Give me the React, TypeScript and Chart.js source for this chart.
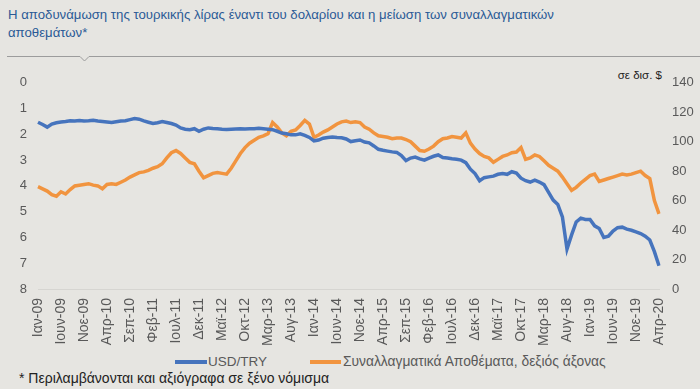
import React, { useEffect, useRef } from 'react';
import { Chart, registerables } from 'chart.js';

Chart.register(...registerables);

const MONTHS = ['Ιαν', 'Φεβ', 'Μαρ', 'Απρ', 'Μαϊ', 'Ιουν', 'Ιουλ', 'Αυγ', 'Σεπ', 'Οκτ', 'Νοε', 'Δεκ'];
const YEARS = ['09', '10', '11', '12', '13', '14', '15', '16', '17', '18', '19', '20'];
const LAST_YEAR_MONTHS = 4; // Ιαν-20 .. Απρ-20
const TICK_EVERY = 5;

const CATEGORIES: string[] = [];
YEARS.forEach((y, yi) => {
  const n = yi === YEARS.length - 1 ? LAST_YEAR_MONTHS : 12;
  for (let m = 0; m < n; m++) CATEGORIES.push(`${MONTHS[m]}-${y}`);
});

// USD/TRY (left axis, reversed)
const USD_TRY = [
  1.53, 1.62, 1.72, 1.60, 1.55, 1.52, 1.50, 1.47, 1.48, 1.46, 1.48, 1.47,
  1.45, 1.48, 1.50, 1.52, 1.54, 1.51, 1.48, 1.47, 1.43, 1.39, 1.41, 1.48,
  1.53, 1.58, 1.55, 1.50, 1.54, 1.58, 1.64, 1.75, 1.80, 1.82, 1.78, 1.88,
  1.80, 1.75, 1.77, 1.78, 1.80, 1.81, 1.80, 1.79, 1.78, 1.79, 1.78, 1.78,
  1.76, 1.78, 1.80, 1.82, 1.88, 1.95, 1.98, 2.02, 2.02, 1.98, 2.04, 2.12,
  2.25, 2.22, 2.15, 2.12, 2.10, 2.12, 2.13, 2.18, 2.28, 2.25, 2.22, 2.30,
  2.33, 2.45, 2.58, 2.62, 2.65, 2.68, 2.70, 2.82, 3.02, 2.92, 2.88, 2.95,
  3.00, 2.92, 2.85, 2.80, 2.90, 2.92, 2.95, 2.97, 3.00, 3.10, 3.35, 3.52,
  3.80, 3.68, 3.65, 3.62, 3.55, 3.52, 3.55, 3.45, 3.50, 3.70, 3.80, 3.85,
  3.78, 3.85, 3.95, 4.25, 4.55, 4.72, 5.20, 6.45, 5.90, 5.40, 5.25, 5.30,
  5.30, 5.55, 5.65, 6.00, 5.95, 5.75, 5.62, 5.60, 5.68, 5.72, 5.78, 5.85,
  5.95, 6.10, 6.55, 7.10,
];

// FX reserves, bn $ (right axis)
const RESERVES = [
  69.5, 68, 66.5, 64, 63, 66, 64.5, 67.5, 70, 70.5, 71, 71.5,
  70.5, 70, 68, 71, 71.5, 71, 72.5, 74, 76, 77.5, 79, 79.5,
  80.5, 82, 83, 85, 89, 92.5, 94, 92, 89, 86, 85, 80,
  75.5, 77, 78.5, 79, 78.5, 78, 82, 87, 92, 96, 99, 101,
  103, 104, 105.5, 113, 110, 106, 104, 107, 108, 111, 114.5, 112,
  103, 104.5, 106.5, 108, 110, 112, 113.5, 114, 113, 113.5, 113, 110,
  108.5, 106, 104, 103.5, 103, 102, 102.5, 102.5, 101.5, 100, 97, 94,
  93.5, 95, 97, 100, 102, 102.5, 103.5, 103, 102.5, 106, 99, 95,
  92, 90, 89, 86, 88, 90, 91, 92.5, 93, 96, 88, 89,
  91, 90, 87, 84, 82, 80, 76, 71.5, 67, 69, 72, 74.5,
  77, 78, 73, 74, 75, 76, 77, 78, 77.5, 78, 79, 80,
  77, 75, 60, 51,
];

const BG = '#e6e5e1';
const FONT = "'Liberation Sans', Arial, sans-serif";
const BLUE = '#4674bd';
const ORANGE = '#f1943f';
const TICK_COLOR = '#595959';
const TITLE_COLOR = '#2a5a96';

export default function App() {
  const ref = useRef<HTMLCanvasElement>(null);

  useEffect(() => {
    document.body.style.margin = '0';
    document.body.style.background = BG;
    const chart = new Chart(ref.current!, {
      type: 'line',
      data: {
        labels: CATEGORIES,
        datasets: [
          {
            label: 'USD/TRY',
            data: USD_TRY,
            yAxisID: 'y',
            borderColor: BLUE,
            backgroundColor: BLUE,
            borderWidth: 3.5,
            pointRadius: 0,
            tension: 0,
          },
          {
            label: 'Συναλλαγματικά Αποθέματα, δεξιός άξονας',
            data: RESERVES,
            yAxisID: 'y1',
            borderColor: ORANGE,
            backgroundColor: ORANGE,
            borderWidth: 3.5,
            pointRadius: 0,
            tension: 0,
          },
        ],
      },
      options: {
        animation: false,
        responsive: true,
        maintainAspectRatio: false,
        layout: { padding: { left: 0, right: 0, top: 14, bottom: 0 } },
        plugins: { legend: { display: false }, tooltip: { enabled: false } },
        scales: {
          x: {
            type: 'category',
            offset: false,
            grid: { display: false, drawTicks: false },
            border: { display: true, color: '#d6d5d1', width: 1 },
            ticks: {
              autoSkip: false,
              minRotation: 90,
              maxRotation: 90,
              padding: 9,
              color: TICK_COLOR,
              font: { family: FONT, size: 14 },
              callback: (_v: any, i: number) => (i % TICK_EVERY === 0 ? CATEGORIES[i] : ''),
            },
            afterFit: (s: any) => { s.height = 63; },
          },
          y: {
            position: 'left',
            reverse: true,
            min: 0,
            max: 8,
            grid: { display: false, drawTicks: false },
            border: { display: false },
            ticks: { stepSize: 1, padding: 11, color: TICK_COLOR, font: { family: FONT, size: 13 } },
            afterFit: (s: any) => { s.width = 38; },
          },
          y1: {
            position: 'right',
            min: 0,
            max: 140,
            grid: { display: false, drawTicks: false },
            border: { display: false },
            ticks: { stepSize: 20, padding: 13, color: TICK_COLOR, font: { family: FONT, size: 13 } },
            afterFit: (s: any) => { s.width = 41; },
          },
        },
      } as any,
    });
    return () => chart.destroy();
  }, []);

  return (
    <div style={{ position: 'relative', width: 700, height: 389, background: BG, fontFamily: FONT, overflow: 'hidden' }}>
      <div style={{ position: 'absolute', left: 8, top: 6, fontSize: 13.2, lineHeight: '18px', color: TITLE_COLOR, whiteSpace: 'nowrap' }}>
        Η αποδυνάμωση της τουρκικής λίρας έναντι του δολαρίου και η μείωση των συναλλαγματικών
        <br />
        αποθεμάτων*
      </div>
      <svg style={{ position: 'absolute', left: 0, top: 52 }} width={700} height={12}>
        <polyline points="7,4.5 80,4.5 84.5,9 89,4.5 700,4.5" fill="none" stroke="#9c9c9c" strokeWidth={1} />
      </svg>
      <div style={{ position: 'absolute', right: 38, top: 69, fontSize: 11.5, color: '#222', whiteSpace: 'nowrap' }}>σε δισ. $</div>
      <div style={{ position: 'absolute', left: 0, top: 62, width: 700, height: 290 }}>
        <canvas ref={ref} />
      </div>
      <div style={{ position: 'absolute', left: 175, top: 360, width: 32, height: 4, background: BLUE }} />
      <div style={{ position: 'absolute', left: 208, top: 354, fontSize: 13.5, color: TICK_COLOR, whiteSpace: 'nowrap' }}>USD/TRY</div>
      <div style={{ position: 'absolute', left: 310, top: 360, width: 31, height: 4, background: ORANGE }} />
      <div style={{ position: 'absolute', left: 343, top: 354, fontSize: 13.8, color: TICK_COLOR, whiteSpace: 'nowrap' }}>
        Συναλλαγματικά Αποθέματα, δεξιός άξονας
      </div>
      <div style={{ position: 'absolute', left: 19, top: 370, fontSize: 14, color: '#222', whiteSpace: 'nowrap' }}>
        * Περιλαμβάνονται και αξιόγραφα σε ξένο νόμισμα
      </div>
    </div>
  );
}
